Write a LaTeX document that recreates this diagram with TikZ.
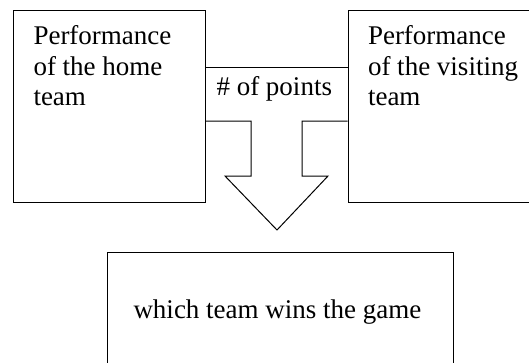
\documentclass[tikz,border=0pt]{standalone}
\usepackage{fontspec}
\setmainfont{Liberation Serif}
\begin{document}
\begin{tikzpicture}[x=1pt,y=-1pt,line width=1pt,
  box/.style={draw,rectangle,inner sep=0pt,anchor=north west},
  txt/.style={inner sep=0pt,anchor=base west,font=\fontsize{27}{30}\selectfont}]
\useasboundingbox (0,0) rectangle (529,362);
% boxes
\node[box,minimum width=192pt,minimum height=192pt] (home) at (13,10) {};
\node[box,minimum width=250pt,minimum height=192pt] (visit) at (347.5,10) {};
\node[box,minimum width=346pt,minimum height=200pt] (game) at (107,252) {};
% texts
\node[txt] (h1) at (33,44.3) {Performance};
\node[txt] (h2) at (33,75.3) {of the home};
\node[txt] (h3) at (33,105.5) {team};
\node[txt] (v1) at (367.5,44.3) {Performance};
\node[txt] (v2) at (367.5,75.3) {of the visiting};
\node[txt] (v3) at (367.5,105.5) {team};
\node[txt] (pts) at (216,95.7) {\# of points};
\node[txt] (g1) at (133,318.3) {which team wins the game};
% block arrow
\coordinate (yT) at (0,67);
\coordinate (yS) at (0,121);
\draw (home.east |- yT) -- (visit.west |- yT);
\draw (home.east |- yS) -- (251,121) -- (251,176) -- (225,176) -- (277,230)
      -- (328,176) -- (302,176) -- (302,121) -- (visit.west |- yS);
\end{tikzpicture}
\end{document}
